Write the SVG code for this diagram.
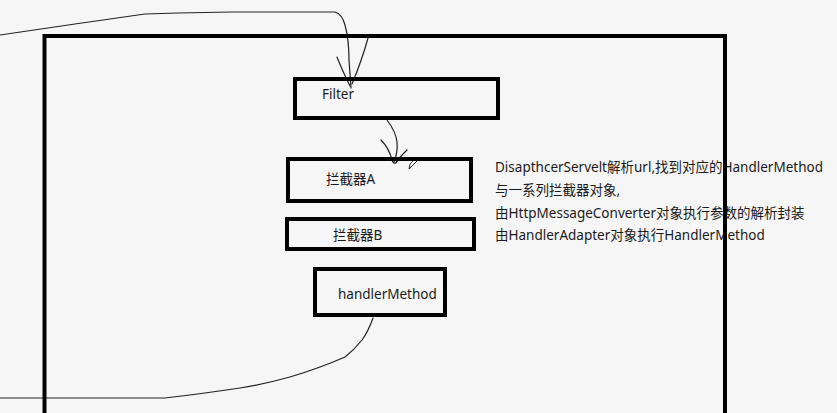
<svg xmlns="http://www.w3.org/2000/svg" width="837" height="413" viewBox="0 0 837 413">
<style>
.box{fill:none;stroke:#000;stroke-width:4}
.t{font-family:"Noto Sans","Noto Sans CJK SC",sans-serif;font-size:13.5px;fill:#1a1a1a}
.ink{fill:none;stroke:#222;stroke-width:1.2;stroke-linecap:round;stroke-linejoin:round}
</style>
<rect width="837" height="413" fill="#f6f6f6"/>
<g id="connectors">
<path class="ink" d="M0,35 L75,24 L145,14 L178,13 L232,12 L335,12 Q342,14 345,25 Q349,40 349,60 L351,88"/>
<path class="ink" d="M337,57 Q342,70 350,86 M368,38 Q362,60 352,84"/>
<path class="ink" d="M387,120 Q396,132 397,142 Q398,152 394,162"/>
<path class="ink" d="M381,140 Q389,148 392,160 Q393,164 396,163 L400,158 M407,150 Q400,157 396,162"/>
<path class="ink" d="M373,318 Q368,332 362,340 Q354,350 345,357 Q320,368 290,377 Q265,384 240,388 Q200,394 165,398 L8,398 L0,398"/>
</g>
<g id="pencil">
<path d="M409,169 L410,164 L417,157 L419,159 L412,166 Z" fill="#fff" stroke="#333" stroke-width="1"/>
<path d="M409,169 L410,166 L411,168 Z" fill="#333"/>
</g>
<g id="filter">
<rect class="box" x="295" y="79" width="203" height="39"/>
<text class="t" x="322" y="99">Filter</text>
</g>
<g id="interceptorA">
<rect class="box" x="288" y="159" width="183" height="42"/>
<text class="t" x="326" y="184">拦截器A</text>
</g>
<g id="interceptorB">
<rect class="box" x="287" y="219" width="187" height="30"/>
<text class="t" x="333" y="240">拦截器B</text>
</g>
<g id="handlerMethod">
<rect class="box" x="315" y="269" width="130" height="46"/>
<text class="t" x="338" y="299">handlerMethod</text>
</g>
<g id="note">
<text class="t" x="495" y="172">DisapthcerServelt解析url,找到对应的HandlerMethod</text>
<text class="t" x="495" y="195">与一系列拦截器对象,</text>
<text class="t" x="495" y="218">由HttpMessageConverter对象执行参数的解析封装</text>
<text class="t" x="495" y="240">由HandlerAdapter对象执行HandlerMethod</text>
</g>
<g id="frame">
<path class="box" d="M44.5,415 L44.5,36 L725,36 L725,415"/>
</g>
</svg>
